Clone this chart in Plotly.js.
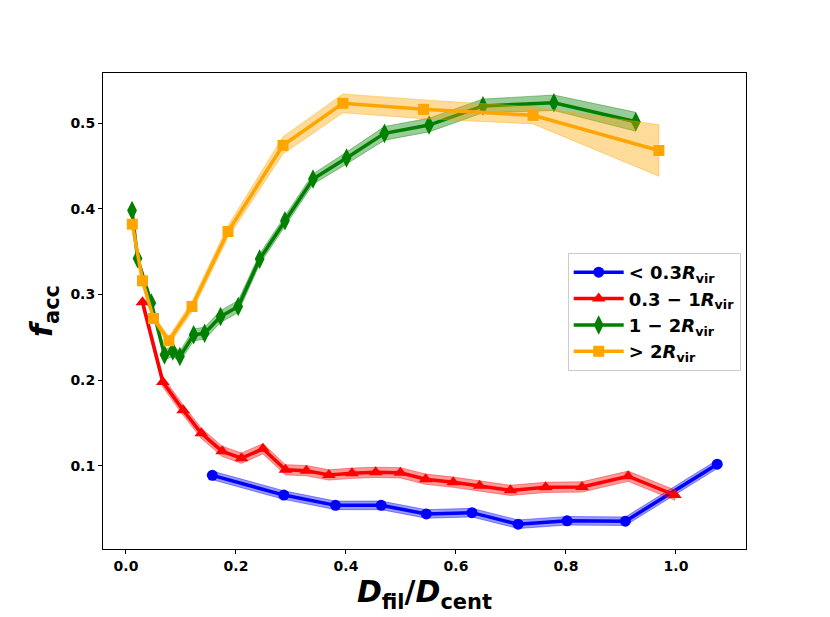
<!DOCTYPE html>
<html>
<head>
<meta charset="utf-8">
<script src="https://cdn.plot.ly/plotly-3.0.1.min.js"></script>
<style>html,body{margin:0;padding:0;background:#fff;}#chart{width:830px;height:617px;}</style>
</head>
<body>
<div id="chart"></div>
<script>
// ---- data ----
const blueX = [0.157, 0.287, 0.381, 0.464, 0.546, 0.629, 0.713, 0.802, 0.908, 1.075];
const blueY = [0.089, 0.066, 0.054, 0.054, 0.044, 0.0455, 0.032, 0.036, 0.0355, 0.102];
const blueErr = [0.005, 0.005, 0.005, 0.005, 0.005, 0.005, 0.005, 0.005, 0.005, 0.005];

const redX = [0.030, 0.067, 0.104, 0.137, 0.175, 0.210, 0.249, 0.290, 0.328, 0.369, 0.411,
              0.454, 0.499, 0.545, 0.595, 0.643, 0.699, 0.763, 0.829, 0.913, 0.998];
const redY = [0.291, 0.198, 0.165, 0.138, 0.117, 0.109, 0.120, 0.0955, 0.0945, 0.0895, 0.0915,
              0.0925, 0.092, 0.0845, 0.081, 0.077, 0.0715, 0.075, 0.0755, 0.088, 0.066];
const redErr = [0.006, 0.006, 0.006, 0.006, 0.006, 0.006, 0.006, 0.006, 0.006, 0.006, 0.006,
                0.006, 0.006, 0.006, 0.006, 0.006, 0.006, 0.006, 0.006, 0.006, 0.006];

const greenX = [0.011, 0.021, 0.046, 0.070, 0.085, 0.098, 0.123, 0.143, 0.172, 0.204,
                0.243, 0.289, 0.340, 0.401, 0.470, 0.551, 0.649, 0.778, 0.927];
const greenY = [0.398, 0.342, 0.290, 0.2296, 0.234, 0.2276, 0.253, 0.2548, 0.2743, 0.286,
                0.3413, 0.386, 0.4347, 0.4592, 0.488, 0.4977, 0.520, 0.5237, 0.5015];
const greenErr = [0.004, 0.004, 0.005, 0.006, 0.006, 0.006, 0.007, 0.007, 0.007, 0.007,
                  0.006, 0.006, 0.006, 0.007, 0.008, 0.008, 0.008, 0.009, 0.011];

const orangeX = [0.0115, 0.030, 0.050, 0.078, 0.120, 0.1855, 0.2855, 0.3945, 0.541, 0.740, 0.969];
const orangeY = [0.382, 0.316, 0.272, 0.246, 0.286, 0.3735, 0.474, 0.523, 0.516, 0.509, 0.468];
const orangeErr = [0.004, 0.004, 0.004, 0.005, 0.006, 0.007, 0.010, 0.011, 0.011, 0.010, 0.030];

const xTicks = [0.0, 0.2, 0.4, 0.6, 0.8, 1.0];
const yTicks = [0.1, 0.2, 0.3, 0.4, 0.5];

const seriesNames = [
  '<b>&lt; 0.3<i>R</i><sub>vir</sub></b>',
  '<b>0.3 − 1<i>R</i><sub>vir</sub></b>',
  '<b>1 − 2<i>R</i><sub>vir</sub></b>',
  '<b>&gt; 2<i>R</i><sub>vir</sub></b>'
];

// ---- build traces ----
const series = [
  {x: blueX, y: blueY, e: blueErr, color: '#0000ff', fill: 'rgba(0,0,255,0.4)', sym: 'circle', size: 11},
  {x: redX, y: redY, e: redErr, color: '#ff0000', fill: 'rgba(255,0,0,0.4)', sym: 'triangle-up', size: 12},
  {x: greenX, y: greenY, e: greenErr, color: '#008000', fill: 'rgba(0,128,0,0.4)', sym: 'diamond-tall', size: 14},
  {x: orangeX, y: orangeY, e: orangeErr, color: '#ffa500', fill: 'rgba(255,165,0,0.4)', sym: 'square', size: 11}
];

const traces = [];
series.forEach((s, i) => {
  const up = s.y.map((v, k) => v + s.e[k]);
  const lo = s.y.map((v, k) => v - s.e[k]);
  traces.push({
    x: s.x.concat(s.x.slice().reverse()),
    y: up.concat(lo.slice().reverse()),
    type: 'scatter', mode: 'lines', fill: 'toself',
    fillcolor: s.fill, line: {color: s.fill, width: 1},
    hoverinfo: 'skip', showlegend: false
  });
  traces.push({
    x: s.x, y: s.y, type: 'scatter', mode: 'lines+markers',
    name: seriesNames[i],
    line: {color: s.color, width: 3.5},
    marker: {color: s.color, symbol: s.sym, size: s.size, line: {width: 0}}
  });
});

const axisCommon = {
  showline: true, mirror: true, linecolor: '#000', linewidth: 1,
  ticks: 'outside', ticklen: 4, tickwidth: 1, tickcolor: '#000',
  showgrid: false, zeroline: false,
  tickfont: {family: 'DejaVu Sans', size: 14, color: '#000', weight: 'bold'}
};

const layout = {
  width: 830, height: 617,
  margin: {l: 103, r: 84, t: 73, b: 68},
  paper_bgcolor: '#fff', plot_bgcolor: '#fff',
  font: {family: 'DejaVu Sans', color: '#000'},
  xaxis: Object.assign({}, axisCommon, {
    range: [-0.0418, 1.1273], tickvals: xTicks, tickformat: '.1f',
    title: {text: '<b><i>D</i><sub>fil</sub>/<i>D</i><sub>cent</sub></b>',
            font: {family: 'DejaVu Sans', size: 30, color: '#000'}, standoff: 8}
  }),
  yaxis: Object.assign({}, axisCommon, {
    range: [0.0031, 0.5584], tickvals: yTicks, tickformat: '.1f',
    title: {text: '<b><i>f</i><sub>acc</sub></b>',
            font: {family: 'DejaVu Sans', size: 30, color: '#000'}, standoff: 8}
  }),
  legend: {
    x: 0.7227, y: 0.622, xanchor: 'left', yanchor: 'top',
    bgcolor: 'rgba(255,255,255,0.8)', bordercolor: '#cccccc', borderwidth: 1,
    font: {family: 'DejaVu Sans', size: 18, color: '#000'},
    itemwidth: 50,
    tracegroupgap: 0
  },
  showlegend: true
};

Plotly.newPlot('chart', traces, layout, {displayModeBar: false, staticPlot: true});
</script>
</body>
</html>
